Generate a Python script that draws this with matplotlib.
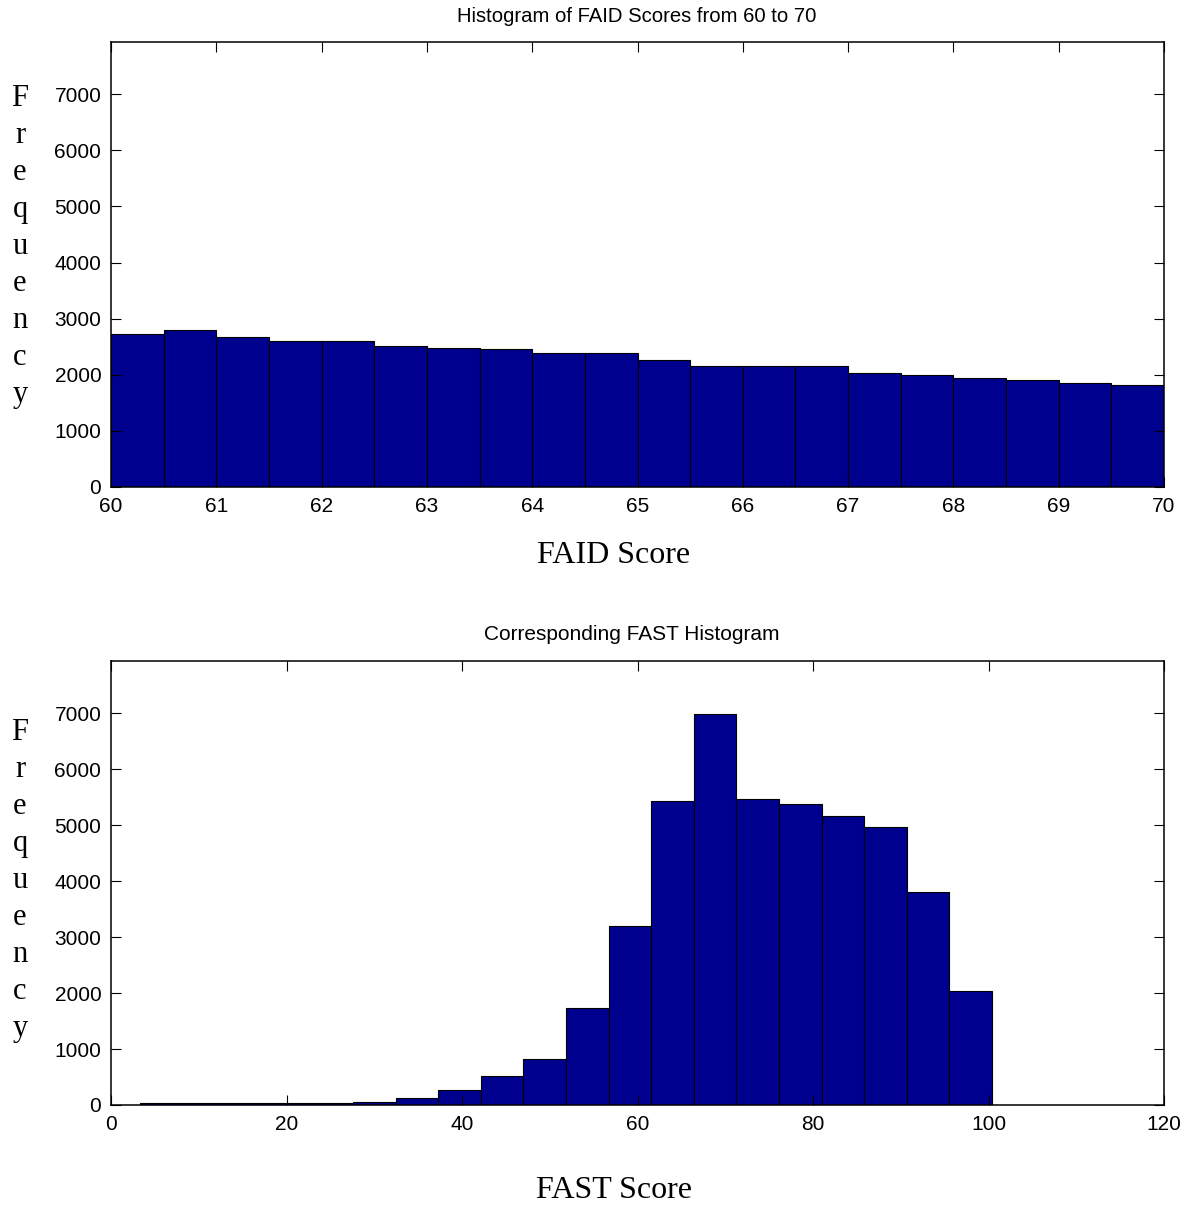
import numpy as np
import matplotlib
matplotlib.use('Agg')
import matplotlib.pyplot as plt

# FAID histogram (60..70, 20 bins)
faid_lo, faid_hi = 60.0, 70.0
faid_counts = [2733, 2791, 2667, 2608, 2608, 2513, 2483, 2453, 2396, 2396,
               2271, 2163, 2157, 2157, 2037, 2002, 1943, 1913, 1854, 1818]

# corresponding FAST histogram (20 bins)
fast_lo, fast_hi = 3.3, 100.4
fast_counts = [35, 32, 32, 32, 35, 59, 120, 275, 515, 820,
               1736, 3200, 5427, 6980, 5470, 5380, 5170, 4960, 3810, 2030]

titles = ['Histogram of FAID Scores from 60 to 70', 'Corresponding FAST Histogram']
xlabels = ['FAID Score', 'FAST Score']
ylabel = 'F\nr\ne\nq\nu\ne\nn\nc\ny'

sans = 'Liberation Sans'
serif = 'Liberation Serif'
bar_color = '#00008F'

W, H = 1191, 1205
fig = plt.figure(figsize=(W / 100, H / 100), dpi=100)

def px_axes(left, top, right, bottom):
    return fig.add_axes([left / W, 1 - bottom / H, (right - left) / W, (bottom - top) / H])

ax1 = px_axes(111, 42, 1164, 487)
ax2 = px_axes(111, 661, 1164, 1105)

def style(ax):
    ax.tick_params(direction='in', length=7.2, width=0.8, top=True, right=True,
                   labelsize=15, pad=7, colors='black')
    for lab in ax.get_xticklabels() + ax.get_yticklabels():
        lab.set_fontfamily(sans)
    for sp in ax.spines.values():
        sp.set_linewidth(1.1)
    ax.set_ylim(0, 7930)
    ax.set_yticks(np.arange(0, 8000, 1000))

# top
edges1 = np.linspace(faid_lo, faid_hi, len(faid_counts) + 1)
ax1.bar(edges1[:-1], faid_counts, width=np.diff(edges1), align='edge',
        color=bar_color, edgecolor='black', linewidth=0.8)
ax1.set_xlim(60, 70)
ax1.set_xticks(np.arange(60, 71, 1))
style(ax1)

# bottom
edges2 = np.linspace(fast_lo, fast_hi, len(fast_counts) + 1)
ax2.bar(edges2[:-1], fast_counts, width=np.diff(edges2), align='edge',
        color=bar_color, edgecolor='black', linewidth=0.8)
ax2.set_xlim(0, 120)
ax2.set_xticks(np.arange(0, 121, 20))
style(ax2)

# titles and labels placed in pixels
fig.text(636.5 / W, 1 - 21.5 / H, titles[0], ha='center', va='baseline',
         fontsize=14.6, family=sans)
fig.text(632 / W, 1 - 640 / H, titles[1], ha='center', va='baseline',
         fontsize=15, family=sans)
fig.text(613.5 / W, 1 - 563 / H, xlabels[0], ha='center', va='baseline',
         fontsize=23, family=serif)
fig.text(614 / W, 1 - 1198 / H, xlabels[1], ha='center', va='baseline',
         fontsize=23, family=serif)
fig.text(20 / W, 1 - 84 / H, ylabel, ha='center', va='top',
         fontsize=22, family=serif, linespacing=1.365)
fig.text(20 / W, 1 - 718 / H, ylabel, ha='center', va='top',
         fontsize=22, family=serif, linespacing=1.365)

fig.savefig('out.png', dpi=100, facecolor='white')
